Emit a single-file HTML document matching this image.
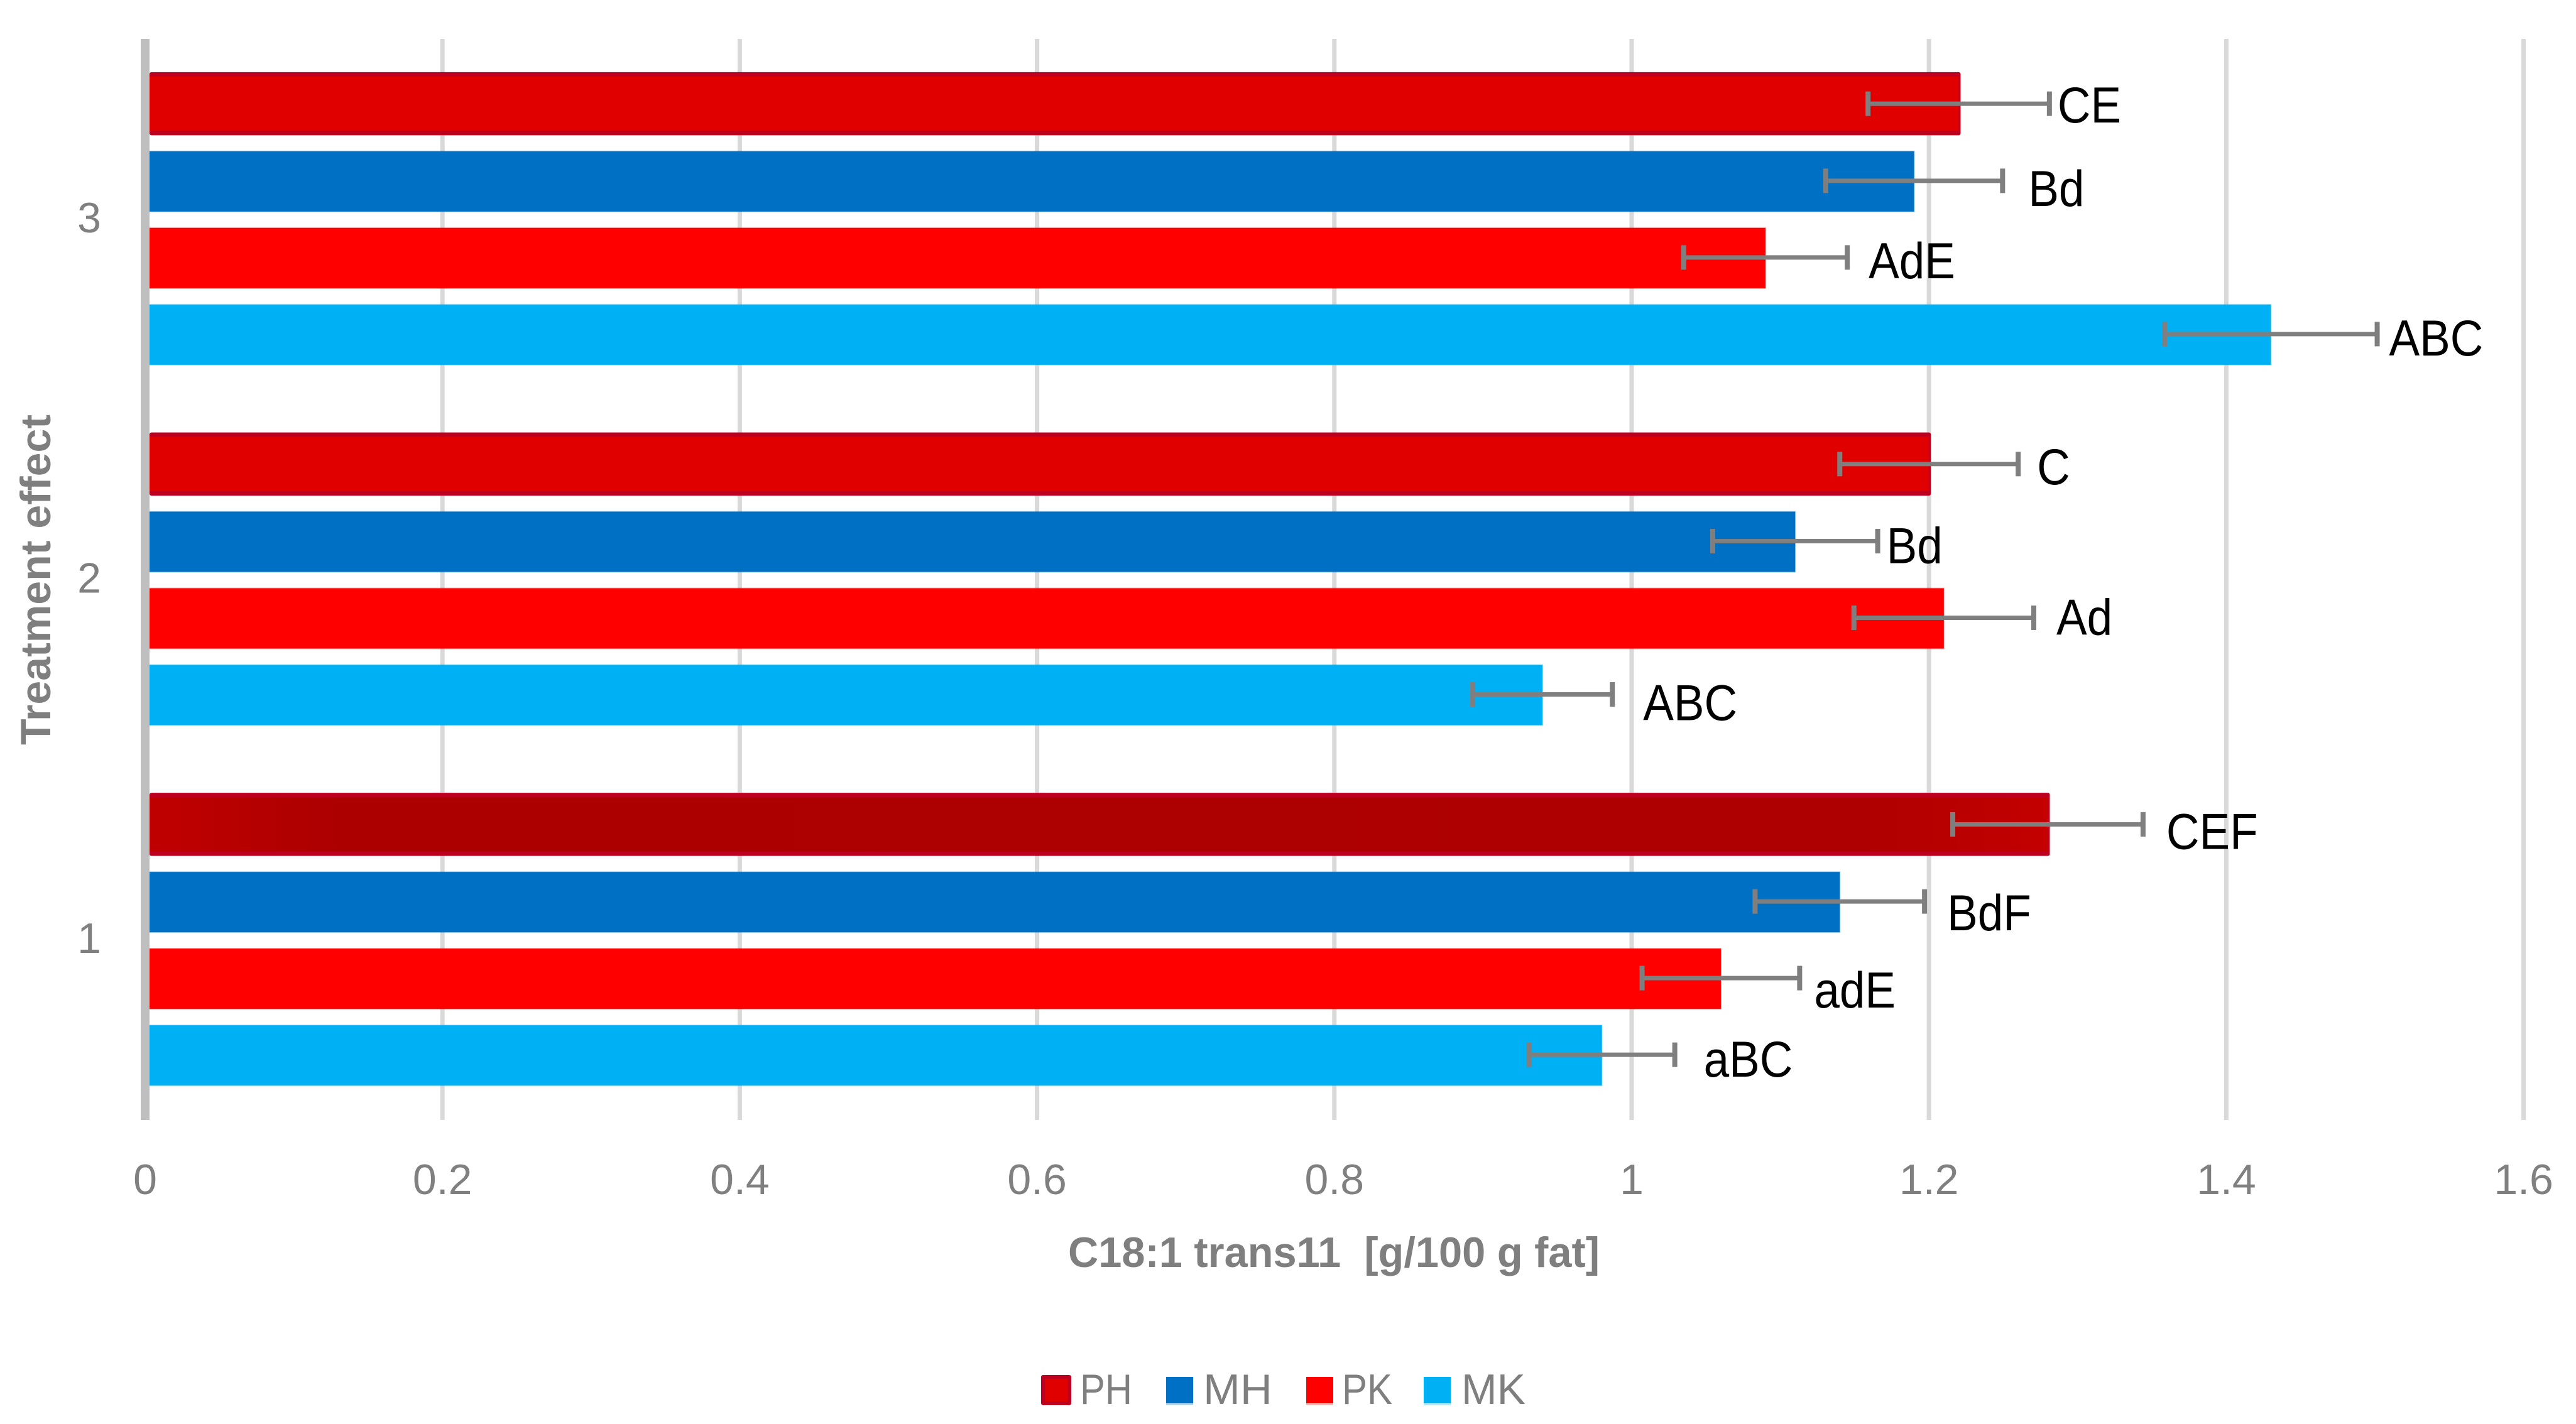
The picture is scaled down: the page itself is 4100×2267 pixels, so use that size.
<!DOCTYPE html>
<html lang="en">
<head>
<meta charset="utf-8">
<title>C18:1 trans11 by treatment effect</title>
<style>
html,body{margin:0;padding:0;background:#fff;}
svg{display:block;}
text{font-family:"Liberation Sans",sans-serif;}
</style>
</head>
<body>
<svg id="chart" xmlns="http://www.w3.org/2000/svg" width="4100" height="2267" viewBox="0 0 4100 2267">
  <defs>
    <linearGradient id="dark-ph" x1="0" x2="1" y1="0" y2="0">
      <stop offset="0" stop-color="#c00000"/>
      <stop offset="0.1" stop-color="#ac0000"/>
      <stop offset="0.9" stop-color="#ae0000"/>
      <stop offset="1" stop-color="#c40000"/>
    </linearGradient>
  </defs>
  <rect x="0" y="0" width="4100" height="2267" fill="#ffffff"/>
  <g id="grid"></g>
  <g id="bars"></g>
  <g id="errors"></g>
  <g id="labels"></g>
  <rect x="224" y="62" width="14" height="1721" fill="#bfbfbf"/>
  <g id="ticks"></g>
  <text x="1700" y="2017" font-size="68" font-weight="bold" fill="#7f7f7f" textLength="846" lengthAdjust="spacingAndGlyphs" xml:space="preserve" style="white-space:pre">C18:1 trans11  [g/100 g fat]</text>
  <text transform="translate(80,1186) rotate(-90)" x="0" y="0" font-size="68" font-weight="bold" fill="#7f7f7f" textLength="526" lengthAdjust="spacingAndGlyphs">Treatment effect</text>
  <g id="legend"></g>
</svg>
<script>
// ---- chart data ----
const categories = ['1', '2', '3'];
const seriesNames = ['PH', 'MH', 'PK', 'MK'];
const phValues = [1.28, 1.20, 1.22];
const mhValues = [1.14, 1.11, 1.19];
const pkValues = [1.06, 1.21, 1.09];
const mkValues = [0.98, 0.94, 1.43];
const phErrors = [0.064, 0.060, 0.061];
const mhErrors = [0.057, 0.0555, 0.0595];
const pkErrors = [0.053, 0.0605, 0.055];
const mkErrors = [0.049, 0.047, 0.0715];
const phLetters = ['CEF', 'C', 'CE'];
const mhLetters = ['BdF', 'Bd', 'Bd'];
const pkLetters = ['adE', 'Ad', 'AdE'];
const mkLetters = ['aBC', 'ABC', 'ABC'];
const xTickValues = [0, 0.2, 0.4, 0.6, 0.8, 1, 1.2, 1.4, 1.6];
const xTickLabels = ['0', '0.2', '0.4', '0.6', '0.8', '1', '1.2', '1.4', '1.6'];

// ---- layout (not data) ----
const seriesValues = [phValues, mhValues, pkValues, mkValues];
const seriesErrors = [phErrors, mhErrors, pkErrors, mkErrors];
const seriesLetters = [phLetters, mhLetters, pkLetters, mkLetters];
const seriesFills = ['#e00000', '#0070c5', '#ff0000', '#00b0f5'];
const legendSwatchLefts = [1657, 1856, 2079, 2266];
const legendTextLefts = [1719, 1915, 2136, 2326];
const legendTextLengths = [83, 110, 80, 102];
const labelShiftX = [[40, 33, 16], [39, 17, 44], [26, 39, 37], [49, 52, 22]];
const labelShiftY = [[41, 34, 32], [47, 36, 41], [48, 28, 34], [36, 42, 35]];

const NS = 'http://www.w3.org/2000/svg';
const plotTop = 62, plotHeight = 1721, zeroX = 231, pxPerUnit = 2366, barLeft = 238;

function xScale(v) { return zeroX + v * pxPerUnit; }
function categoryCenter(c) { return plotTop + plotHeight * (categories.length - c - 0.5) / categories.length; }
function barTop(c, s) { return categoryCenter(c) - 234 + (s > 0 ? 4 + s * 122 : 0); }
function barHeight(s) { return s === 0 ? 100.5 : 96; }
function make(parent, tag, attrs, content) {
  const node = document.createElementNS(NS, tag);
  for (const k in attrs) node.setAttribute(k, attrs[k]);
  if (content !== undefined) node.textContent = content;
  parent.appendChild(node);
  return node;
}

const gridG = document.getElementById('grid');
const barsG = document.getElementById('bars');
const errG = document.getElementById('errors');
const labelsG = document.getElementById('labels');
const ticksG = document.getElementById('ticks');
const legendG = document.getElementById('legend');

xTickValues.forEach(function (t, i) {
  if (t !== 0) {
    const g = make(gridG, 'line', { x1: xScale(t), x2: xScale(t), y1: plotTop, y2: plotTop + plotHeight, stroke: '#d9d9d9', 'stroke-width': 7 });
    
    
  }
  const lab = make(ticksG, 'text', { x: xScale(t), y: 1901, 'font-size': 68, fill: '#808080', 'text-anchor': 'middle' }, xTickLabels[i]);
  
  
});

categories.forEach(function (cat, c) {
  const lab = make(ticksG, 'text', { x: 161, y: categoryCenter(c) + 21, 'font-size': 68, fill: '#808080', 'text-anchor': 'end' }, cat);
  
  

  seriesNames.forEach(function (name, s) {
    const v = seriesValues[s][c];
    const e = seriesErrors[s][c];
    const top = barTop(c, s);
    const h = barHeight(s);
    const mid = top + h / 2 - (s === 0 ? 0 : 1);
    const right = xScale(v);
    const w = right - barLeft;

    if (s === 0) {
      const outer = make(barsG, 'rect', { x: barLeft, y: top, width: w + 3, height: h, rx: 3, fill: '#be0020' });
      
      
      const inner = make(barsG, 'rect', { x: barLeft, y: top + 7, width: w, height: h - 14, fill: c === 0 ? 'url(#dark-ph)' : seriesFills[0] });
      
      
    } else {
      const bar = make(barsG, 'rect', { x: barLeft, y: top, width: w, height: h, fill: seriesFills[s], stroke: seriesFills[s], 'stroke-opacity': 0.3, 'stroke-width': 2 });
      
      
    }

    const lo = xScale(v - e);
    const hi = xScale(v + e);
    const whisker = make(errG, 'line', { x1: lo, x2: hi, y1: mid, y2: mid, stroke: '#7f7f7f', 'stroke-width': 7 });
    
    
    const capLo = make(errG, 'line', { x1: lo, x2: lo, y1: mid - 19.5, y2: mid + 19.5, stroke: '#7f7f7f', 'stroke-width': 8 });
    
    
    const capHi = make(errG, 'line', { x1: hi, x2: hi, y1: mid - 19.5, y2: mid + 19.5, stroke: '#7f7f7f', 'stroke-width': 8 });
    
    

    const lx = hi + labelShiftX[s][c] - 3;
    const ly = top + h / 2 + labelShiftY[s][c] - 2;
    const letter = make(labelsG, 'text', { transform: 'translate(' + lx + ',' + ly + ') scale(0.9,1)', 'font-size': 81, fill: '#000000' }, seriesLetters[s][c]);
    
    
  });
});

seriesNames.forEach(function (name, s) {
  const swatchX = legendSwatchLefts[s];
  if (s === 0) {
    const outer = make(legendG, 'rect', { x: swatchX, y: 2189, width: 48, height: 48, rx: 3, fill: '#be0020' });
    
    
    const inner = make(legendG, 'rect', { x: swatchX + 6, y: 2195, width: 36, height: 36, fill: seriesFills[0] });
    
    
  } else {
    const sw = make(legendG, 'rect', { x: swatchX, y: 2192, width: 43, height: 42, fill: seriesFills[s] });
    
    
    const strip = make(legendG, 'rect', { x: swatchX, y: 2234, width: 43, height: 3, fill: seriesFills[s], 'fill-opacity': 0.3 });
    
    
  }
  const entry = make(legendG, 'text', { x: legendTextLefts[s], y: 2235, 'font-size': 68, fill: '#7f7f7f', textLength: legendTextLengths[s], lengthAdjust: 'spacingAndGlyphs' }, name);
  
  
});
</script>
</body>
</html>
